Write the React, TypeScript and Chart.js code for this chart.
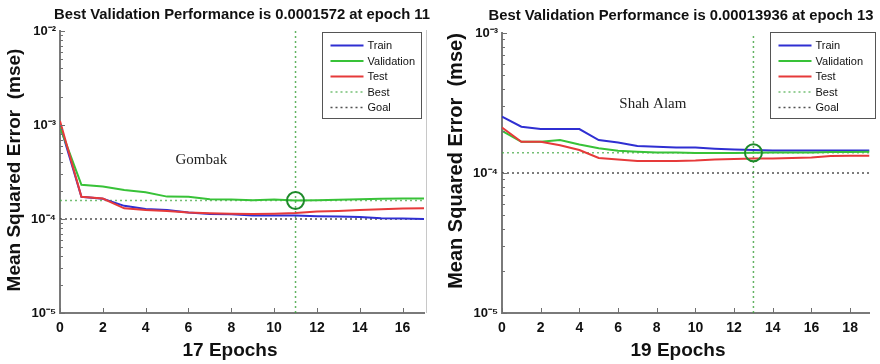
import React, { useEffect, useRef } from "react";
import { Chart, registerables } from "chart.js";
Chart.register(...registerables);

// ---------- Data ----------
const gombakEpochs = [0, 1, 2, 3, 4, 5, 6, 7, 8, 9, 10, 11, 12, 13, 14, 15, 16, 17];
const gombakTrain = [1.0e-3, 1.72e-4, 1.64e-4, 1.38e-4, 1.28e-4, 1.25e-4, 1.17e-4, 1.13e-4, 1.12e-4, 1.09e-4, 1.09e-4, 1.09e-4, 1.07e-4, 1.06e-4, 1.05e-4, 1.02e-4, 1.01e-4, 1.0e-4];
const gombakValidation = [9.5e-4, 2.31e-4, 2.22e-4, 2.04e-4, 1.93e-4, 1.73e-4, 1.72e-4, 1.62e-4, 1.61e-4, 1.58e-4, 1.61e-4, 1.572e-4, 1.58e-4, 1.6e-4, 1.62e-4, 1.64e-4, 1.65e-4, 1.65e-4];
const gombakTest = [1.1e-3, 1.72e-4, 1.65e-4, 1.3e-4, 1.25e-4, 1.22e-4, 1.17e-4, 1.15e-4, 1.14e-4, 1.13e-4, 1.14e-4, 1.16e-4, 1.2e-4, 1.22e-4, 1.25e-4, 1.27e-4, 1.29e-4, 1.3e-4];
const gombakBest = 1.572e-4;
const gombakBestEpoch = 11;
const gombakGoal = 1e-4;
const gombakTitle = "Best Validation Performance is 0.0001572 at epoch 11";
const gombakXTitle = "17 Epochs";
const gombakLabel = "Gombak";

const shahAlamEpochs = [0, 1, 2, 3, 4, 5, 6, 7, 8, 9, 10, 11, 12, 13, 14, 15, 16, 17, 18, 19];
const shahAlamTrain = [2.53e-4, 2.14e-4, 2.06e-4, 2.06e-4, 2.06e-4, 1.72e-4, 1.65e-4, 1.56e-4, 1.54e-4, 1.52e-4, 1.52e-4, 1.49e-4, 1.47e-4, 1.46e-4, 1.45e-4, 1.45e-4, 1.45e-4, 1.45e-4, 1.45e-4, 1.45e-4];
const shahAlamValidation = [2.0e-4, 1.67e-4, 1.67e-4, 1.72e-4, 1.6e-4, 1.5e-4, 1.44e-4, 1.42e-4, 1.4e-4, 1.4e-4, 1.39e-4, 1.39e-4, 1.39e-4, 1.3936e-4, 1.4e-4, 1.4e-4, 1.4e-4, 1.41e-4, 1.41e-4, 1.42e-4];
const shahAlamTest = [2.11e-4, 1.67e-4, 1.67e-4, 1.58e-4, 1.46e-4, 1.28e-4, 1.25e-4, 1.22e-4, 1.22e-4, 1.22e-4, 1.23e-4, 1.25e-4, 1.26e-4, 1.27e-4, 1.27e-4, 1.28e-4, 1.29e-4, 1.32e-4, 1.33e-4, 1.33e-4];
const shahAlamBest = 1.3936e-4;
const shahAlamBestEpoch = 13;
const shahAlamGoal = 1e-4;
const shahAlamTitle = "Best Validation Performance is 0.00013936 at epoch 13";
const shahAlamXTitle = "19 Epochs";
const shahAlamLabel = "Shah Alam";

const gombakYTicks = [1e-5, 1e-4, 1e-3, 1e-2];
const gombakYTickLabels = ["10\u207B\u2075", "10\u207B\u2074", "10\u207B\u00B3", "10\u207B\u00B2"];
const shahAlamYTicks = [1e-5, 1e-4, 1e-3];
const shahAlamYTickLabels = ["10\u207B\u2075", "10\u207B\u2074", "10\u207B\u00B3"];
const gombakXTicks = [0, 2, 4, 6, 8, 10, 12, 14, 16];
const shahAlamXTicks = [0, 2, 4, 6, 8, 10, 12, 14, 16, 18];

const yTitle = "Mean Squared Error  (mse)";
const legendLabels = ["Train", "Validation", "Test", "Best", "Goal"];

// ---------- Styles ----------
const BLUE = "#2f2fd2";
const GREEN = "#38c238";
const RED = "#e63a3a";
const BEST_C = "rgba(70,170,70,0.75)";
const GOAL_C = "rgba(50,50,50,0.85)";
const VLINE_C = "rgba(60,160,60,0.8)";
const CIRCLE_C = "#1e8a2a";
const SANS = "'Liberation Sans', Arial, sans-serif";
const SERIF = "'Liberation Serif', 'Times New Roman', serif";

type Cfg = {
  epochs: number[];
  train: number[];
  validation: number[];
  test: number[];
  best: number;
  bestEpoch: number;
  goal: number;
  title: string;
  xTitle: string;
  label: string;
  labelAt: [number, number];
  yTicks: number[];
  yTickLabels: string[];
  xTicks: number[];
  yMin: number;
  yMax: number;
  xMax: number;
  layout: {
    yWidth: number;
    top: number;
    right: number;
    titleX: number;
    titleY: number;
    xTitleX: number;
    yTitleX: number;
    yTitleY: number;
    yTitleSize: number;
    legendX: number;
    legendW: number;
    rightEdge: boolean;
  };
};

const decorPlugin = {
  id: "matlabDecor",
  afterDatasetsDraw(chart: any, _args: any, opts: any) {
    const cfg: Cfg = opts.cfg;
    if (!cfg) return;
    const L = cfg.layout;
    const ctx: CanvasRenderingContext2D = chart.ctx;
    const { left, right, top, bottom } = chart.chartArea;
    const xs = chart.scales.x;
    const ys = chart.scales.y;
    ctx.save();

    // right box edge
    if (L.rightEdge) {
      ctx.strokeStyle = "#c8c8c8";
      ctx.lineWidth = 1;
      ctx.beginPath();
      ctx.moveTo(right + 2.5, top - 1);
      ctx.lineTo(right + 2.5, bottom);
      ctx.stroke();
    }

    // inward ticks
    ctx.strokeStyle = "#707070";
    ctx.lineWidth = 1;
    const e0 = Math.round(Math.log10(cfg.yMin));
    const e1 = Math.round(Math.log10(cfg.yMax));
    for (let e = e0; e <= e1; e++) {
      for (let k = 1; k <= 9; k++) {
        const v = k * Math.pow(10, e);
        if (v > cfg.yMax * 1.0001) break;
        const py = Math.round(ys.getPixelForValue(v)) + 0.5;
        ctx.beginPath();
        ctx.moveTo(left, py);
        ctx.lineTo(left + (k === 1 ? 5 : 3), py);
        ctx.stroke();
      }
    }
    xs.ticks.forEach((t: any) => {
      const px = Math.round(xs.getPixelForValue(t.value)) + 0.5;
      ctx.beginPath();
      ctx.moveTo(px, bottom);
      ctx.lineTo(px, bottom - 5);
      ctx.stroke();
    });

    // annotation text
    ctx.fillStyle = "#222";
    ctx.font = `15px ${SERIF}`;
    ctx.textAlign = "center";
    ctx.textBaseline = "middle";
    ctx.fillText(cfg.label, xs.getPixelForValue(cfg.labelAt[0]), ys.getPixelForValue(cfg.labelAt[1]));

    // legend
    const bx = L.legendX + 0.5;
    const by = 32.5;
    const bw = L.legendW;
    const bh = 86;
    ctx.fillStyle = "#ffffff";
    ctx.fillRect(bx, by, bw, bh);
    ctx.strokeStyle = "#555";
    ctx.lineWidth = 1;
    ctx.strokeRect(bx, by, bw, bh);
    const items = chart.data.datasets.filter((d: any) => d.legendIndex !== undefined).sort((a: any, b: any) => a.legendIndex - b.legendIndex);
    ctx.font = `11px ${SANS}`;
    ctx.textAlign = "left";
    items.forEach((d: any, i: number) => {
      const ry = by + 13 + i * 15.5;
      ctx.strokeStyle = d.borderColor;
      ctx.lineWidth = d.borderWidth;
      ctx.setLineDash(d.borderDash || []);
      ctx.beginPath();
      ctx.moveTo(bx + 8, ry);
      ctx.lineTo(bx + 41, ry);
      ctx.stroke();
      ctx.setLineDash([]);
      ctx.fillStyle = "#111";
      ctx.fillText(d.label, bx + 45, ry + 0.5);
    });

    // title
    ctx.fillStyle = "#111";
    ctx.font = `bold 14.8px ${SANS}`;
    ctx.textAlign = "center";
    ctx.fillText(cfg.title, L.titleX, L.titleY);

    // x title
    ctx.font = `bold 19px ${SANS}`;
    ctx.fillText(cfg.xTitle, L.xTitleX, 351);

    // y title
    ctx.translate(L.yTitleX, L.yTitleY);
    ctx.rotate(-Math.PI / 2);
    ctx.font = `bold ${L.yTitleSize}px ${SANS}`;
    ctx.fillText(yTitle, 0, 0);

    ctx.restore();
  },
};

function pts(xs: number[], ys: number[]) {
  return xs.map((x, i) => ({ x, y: ys[i] }));
}

function buildConfig(cfg: Cfg): any {
  const L = cfg.layout;
  const xEnd = cfg.xMax;
  return {
    type: "line",
    data: {
      datasets: [
        { label: legendLabels[0], legendIndex: 0, data: pts(cfg.epochs, cfg.train), borderColor: BLUE, borderWidth: 2, pointRadius: 0, order: 3 },
        { label: legendLabels[1], legendIndex: 1, data: pts(cfg.epochs, cfg.validation), borderColor: GREEN, borderWidth: 2, pointRadius: 0, order: 2 },
        { label: legendLabels[2], legendIndex: 2, data: pts(cfg.epochs, cfg.test), borderColor: RED, borderWidth: 2, pointRadius: 0, order: 1 },
        { label: legendLabels[3], legendIndex: 3, data: [{ x: 0, y: cfg.best }, { x: xEnd, y: cfg.best }], borderColor: BEST_C, borderWidth: 1.5, borderDash: [2, 3], pointRadius: 0, order: 5 },
        { label: legendLabels[4], legendIndex: 4, data: [{ x: 0, y: cfg.goal }, { x: xEnd, y: cfg.goal }], borderColor: GOAL_C, borderWidth: 1.5, borderDash: [2, 3], pointRadius: 0, order: 6 },
        { label: "bestEpoch", data: [{ x: cfg.bestEpoch, y: cfg.yMin }, { x: cfg.bestEpoch, y: cfg.yMax }], borderColor: VLINE_C, borderWidth: 1.5, borderDash: [2, 3], pointRadius: 0, order: 4 },
        { label: "bestPoint", data: [{ x: cfg.bestEpoch, y: cfg.best }], showLine: false, pointRadius: 8.5, pointBorderWidth: 2, pointBorderColor: CIRCLE_C, pointBackgroundColor: "rgba(0,0,0,0)", order: 0 },
      ],
    },
    options: {
      animation: false,
      responsive: false,
      devicePixelRatio: 1,
      layout: { padding: { top: L.top, right: L.right, left: 0, bottom: 0 } },
      plugins: {
        legend: { display: false },
        title: { display: false },
        tooltip: { enabled: false },
        matlabDecor: { cfg },
      },
      scales: {
        x: {
          type: "linear",
          min: 0,
          max: cfg.xMax,
          afterBuildTicks: (s: any) => {
            s.ticks = cfg.xTicks.map((v) => ({ value: v }));
          },
          afterFit: (s: any) => {
            s.height = 51;
          },
          grid: { display: false, drawTicks: false },
          border: { display: true, color: "#7a7a7a", width: 2 },
          ticks: { color: "#111", font: { family: SANS, weight: "bold", size: 14 }, padding: 7, autoSkip: false, maxRotation: 0, callback: (v: any) => String(v) },
        },
        y: {
          type: "logarithmic",
          min: cfg.yMin,
          max: cfg.yMax,
          afterBuildTicks: (s: any) => {
            s.ticks = cfg.yTicks.map((v) => ({ value: v }));
          },
          afterFit: (s: any) => {
            s.width = L.yWidth;
          },
          grid: { display: false, drawTicks: false },
          border: { display: true, color: "#7a7a7a", width: 2 },
          ticks: {
            color: "#111",
            font: { family: SANS, weight: "bold", size: 13 },
            padding: 4,
            autoSkip: false,
            callback: (v: any) => {
              const i = cfg.yTicks.findIndex((t) => Math.abs(Math.log10(t) - Math.log10(v)) < 1e-6);
              return i >= 0 ? cfg.yTickLabels[i] : "";
            },
          },
        },
      },
    },
    plugins: [decorPlugin],
  };
}

const gombakCfg: Cfg = {
  epochs: gombakEpochs,
  train: gombakTrain,
  validation: gombakValidation,
  test: gombakTest,
  best: gombakBest,
  bestEpoch: gombakBestEpoch,
  goal: gombakGoal,
  title: gombakTitle,
  xTitle: gombakXTitle,
  label: gombakLabel,
  labelAt: [6.6, 4.2e-4],
  yTicks: gombakYTicks,
  yTickLabels: gombakYTickLabels,
  xTicks: gombakXTicks,
  yMin: 1e-5,
  yMax: 1e-2,
  xMax: 17,
  layout: { yWidth: 60, top: 31, right: 16, titleX: 242, titleY: 15, xTitleX: 230, yTitleX: 15, yTitleY: 170, yTitleSize: 19, legendX: 322, legendW: 99, rightEdge: true },
};

const shahAlamCfg: Cfg = {
  epochs: shahAlamEpochs,
  train: shahAlamTrain,
  validation: shahAlamValidation,
  test: shahAlamTest,
  best: shahAlamBest,
  bestEpoch: shahAlamBestEpoch,
  goal: shahAlamGoal,
  title: shahAlamTitle,
  xTitle: shahAlamXTitle,
  label: shahAlamLabel,
  labelAt: [7.8, 3.1e-4],
  yTicks: shahAlamYTicks,
  yTickLabels: shahAlamYTickLabels,
  xTicks: shahAlamXTicks,
  yMin: 1e-5,
  yMax: 1e-3,
  xMax: 19,
  layout: { yWidth: 62, top: 33, right: 7, titleX: 241, titleY: 16, xTitleX: 238, yTitleX: 16, yTitleY: 161, yTitleSize: 20, legendX: 330, legendW: 105, rightEdge: false },
};

function PerfChart({ cfg }: { cfg: Cfg }) {
  const ref = useRef<HTMLCanvasElement | null>(null);
  useEffect(() => {
    if (!ref.current) return;
    const chart = new Chart(ref.current, buildConfig(cfg));
    return () => chart.destroy();
  }, [cfg]);
  return <canvas ref={ref} width={440} height={364} style={{ display: "block", width: 440, height: 364 }} />;
}

export default function App() {
  useEffect(() => {
    document.body.style.margin = "0";
    document.body.style.background = "#ffffff";
  }, []);
  return (
    <div style={{ display: "flex", width: 880, height: 364, background: "#fff" }}>
      <PerfChart cfg={gombakCfg} />
      <PerfChart cfg={shahAlamCfg} />
    </div>
  );
}
